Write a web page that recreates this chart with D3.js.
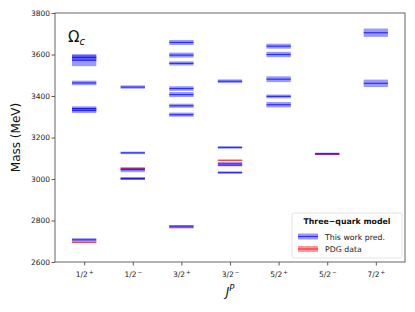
<!DOCTYPE html>
<html><head><meta charset="utf-8">
<script src="https://cdn.jsdelivr.net/npm/d3@7"></script>
<style>body{margin:0;background:#fff}svg{display:block;font-family:"DejaVu Sans",sans-serif}</style>
</head><body><svg id="c" width="415" height="312"></svg>
<script>
const categories = ["1/2+","1/2-","3/2+","3/2-","5/2+","5/2-","7/2+"];
const tickMain = ["1/2","1/2","3/2","3/2","5/2","5/2","7/2"];
const tickSup = ["+","\u2212","+","\u2212","+","\u2212","+"];
// predictions: [category index, mass, half-width of uncertainty]
const predCat  = [0,0,0,0,0,0, 1,1,1,1, 2,2,2,2,2,2,2,2, 3,3,3,3, 4,4,4,4,4, 5, 6,6];
const predMass = [3586,3572,3463,3340,3330,2707, 3443,3126,3045,3003, 3658,3597,3557,3436,3407,3353,3310,2773, 3471,3152,3073,3031, 3640,3600,3481,3398,3358, 3122, 3705,3461];
const predErr  = [14,28,11,10,12,8, 8,6,12,6, 12,12,10,11,12,10,10,5, 9,6,9,6, 12,13,14,9,13, 5, 20,18];
const pdgCat  = [0,1,1,2,3,3,5];
const pdgMass = [2695,3000,3050,2766,3065,3090,3119];
const yTicks = [2600,2800,3000,3200,3400,3600,3800];

const svg = d3.select("#c");
const L=55,R=405,T=13,B=262;
const x = d3.scaleLinear().domain([-0.6,6.6]).range([L,R]);
const y = d3.scaleLinear().domain([2600,3800]).range([B,T]);
const hw = 0.25;

const g = svg.append("g");
pdgMass.forEach((m,i)=>{
  const c = pdgCat[i];
  g.append("rect").attr("x",x(c-hw)).attr("width",x(c+hw)-x(c-hw))
    .attr("y",y(m+4)).attr("height",y(m-4)-y(m+4))
    .attr("fill","#ff0000").attr("fill-opacity",0.4);
  g.append("line").attr("x1",x(c-hw)).attr("x2",x(c+hw)).attr("y1",y(m)).attr("y2",y(m))
    .attr("stroke","#ff0000").attr("stroke-opacity",0.6).attr("stroke-width",1.2);
});
predMass.forEach((m,i)=>{
  const c = predCat[i];
  g.append("rect").attr("x",x(c-hw)).attr("width",x(c+hw)-x(c-hw))
    .attr("y",y(m+predErr[i])).attr("height",y(m-predErr[i])-y(m+predErr[i]))
    .attr("fill","#0000ff").attr("fill-opacity",0.4);
});
predMass.forEach((m,i)=>{
  const c = predCat[i];
  g.append("line").attr("x1",x(c-hw)).attr("x2",x(c+hw)).attr("y1",y(m)).attr("y2",y(m))
    .attr("stroke","#0000ff").attr("stroke-opacity",0.7).attr("stroke-width",1.2);
});

const ax = svg.append("g").attr("transform",`translate(0,${B})`)
  .call(d3.axisBottom(x).tickValues(d3.range(7)).tickFormat("").tickSize(3.5));
const ay = svg.append("g").attr("transform",`translate(${L},0)`)
  .call(d3.axisLeft(y).tickValues(yTicks).tickFormat(d3.format("d")).tickSize(3.5));
[ax,ay].forEach(a=>{a.select(".domain").remove();a.selectAll("line").attr("stroke","#333").attr("stroke-width",0.8);});
ay.selectAll("text").attr("font-size",7.5).attr("fill","#222").attr("x",-5).attr("font-family","DejaVu Sans");
ax.selectAll(".tick").each(function(d){
  const t = d3.select(this).append("text").attr("y",15).attr("text-anchor","middle")
    .attr("font-size",7.5).attr("fill","#222").attr("font-family","DejaVu Sans");
  t.append("tspan").text(tickMain[d]);
  t.append("tspan").attr("dy",-3).attr("dx",1).attr("font-size",5.5).text(tickSup[d]);
});
svg.append("rect").attr("x",L).attr("y",T).attr("width",R-L).attr("height",B-T)
  .attr("fill","none").attr("stroke","#555").attr("stroke-width",0.9);

svg.append("text").attr("transform",`translate(20,${(T+B)/2}) rotate(-90)`).attr("text-anchor","middle")
  .attr("font-size",12).attr("fill","#111").text("Mass (MeV)");
const xl = svg.append("text").attr("x",230).attr("y",296).attr("text-anchor","middle").attr("font-size",12).attr("fill","#111");
xl.append("tspan").attr("font-style","italic").text("J");
xl.append("tspan").attr("font-style","italic").attr("font-size",8.5).attr("dy",-5).text("P");
const om = svg.append("text").attr("x",68).attr("y",42).attr("font-size",15).attr("fill","#111");
om.append("tspan").text("\u03A9");
om.append("tspan").attr("font-style","italic").attr("font-size",10).attr("dy",3).text("c");

const lg = svg.append("g").attr("transform","translate(292,213)");
lg.append("rect").attr("width",110).attr("height",45).attr("rx",2).attr("fill","#fff").attr("fill-opacity",0.85)
  .attr("stroke","#ddd").attr("stroke-width",0.8);
lg.append("text").attr("x",55).attr("y",11).attr("text-anchor","middle").attr("font-size",7.8).attr("font-weight","bold").attr("fill","#111").text("Three\u2212quark model");
[["#0000ff","This work pred."],["#ff0000","PDG data"]].forEach((d,i)=>{
  const yy = 23.5+i*12.5;
  lg.append("rect").attr("x",6).attr("y",yy-3).attr("width",20).attr("height",6).attr("fill",d[0]).attr("fill-opacity",0.4);
  lg.append("line").attr("x1",6).attr("x2",26).attr("y1",yy).attr("y2",yy).attr("stroke",d[0]).attr("stroke-opacity",0.7).attr("stroke-width",1.2);
  lg.append("text").attr("x",33).attr("y",yy+3).attr("font-size",7.8).attr("fill","#222").text(d[1]);
});
</script></body></html>
